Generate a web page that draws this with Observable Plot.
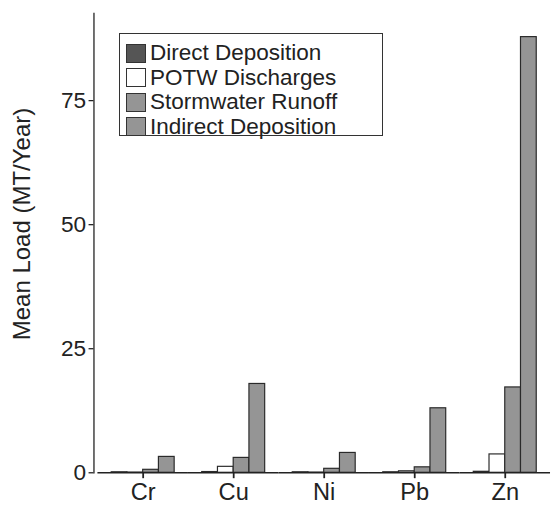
<!DOCTYPE html>
<html>
<head>
<meta charset="utf-8">
<script src="https://cdn.jsdelivr.net/npm/d3@7"></script>
<script src="https://cdn.jsdelivr.net/npm/@observablehq/plot@0.6"></script>
<style>
  html, body { margin: 0; padding: 0; background: #fff; overflow: hidden; }
  #wrap { position: relative; width: 551px; height: 514px; overflow: hidden; font-family: "Liberation Sans", Arial, sans-serif; color: #222; }
  #chart { position: absolute; left: 0; top: 0; }
  #ylabel { position: absolute; left: 22px; top: 224px; transform: translate(-50%, -50%) rotate(-90deg); white-space: nowrap; font-size: 24px; }
  #legend { position: absolute; left: 119px; top: 33px; width: 262px; height: 101px; border: 1px solid #333; box-sizing: content-box; background: #fff; }
  .row { position: absolute; left: 6px; height: 24px; display: flex; align-items: center; font-size: 22.5px; white-space: nowrap; }
  .sw { width: 20px; height: 19px; border: 1px solid #333; margin-right: 4px; box-sizing: border-box; }
</style>
</head>
<body>
<div id="wrap">
  <div id="chart"></div>
  <div id="ylabel"></div>
  <div id="legend"></div>
</div>
<script>
const metals = ["Cr", "Cu", "Ni", "Pb", "Zn"];
const sources = ["Direct Deposition", "POTW Discharges", "Stormwater Runoff", "Indirect Deposition"];
const sourceColors = ["#555555", "#ffffff", "#959595", "#959595"];
const directDeposition = [0.1, 0.15, 0.1, 0.1, 0.2];
const potwDischarges = [0.05, 1.2, 0.05, 0.3, 3.7];
const stormwaterRunoff = [0.6, 3.0, 0.8, 1.1, 17.2];
const indirectDeposition = [3.2, 17.9, 4.0, 13.0, 87.8];
const yTicks = [0, 25, 50, 75];
const yLabel = "Mean Load (MT/Year)";

const series = [directDeposition, potwDischarges, stormwaterRunoff, indirectDeposition];
const table = [];
metals.forEach((m, i) => sources.forEach((s, j) => table.push({metal: m, source: s, value: series[j][i]})));

const chart = Plot.plot({
  width: 560,
  height: 514,
  marginLeft: 97,
  marginRight: 0,
  marginTop: 13,
  marginBottom: 34,
  style: {fontFamily: "'Liberation Sans', Arial, sans-serif", color: "#222", background: "#fff"},
  fx: {domain: metals, padding: 0, label: null, axis: null},
  x: {domain: sources, paddingInner: 0, paddingOuter: 0.76, axis: null},
  y: {domain: [0, 92.6], axis: null},
  color: {domain: sources, range: sourceColors},
  marks: [
    Plot.barY(table, {fx: "metal", x: "source", y: "value", fill: "source", stroke: "#2a2a2a", strokeWidth: 1.2}),
    Plot.ruleY([0], {stroke: "#222", strokeWidth: 1.5}),
    Plot.axisFx({anchor: "bottom", tickSize: 6, tickPadding: 5, fontSize: 24, strokeWidth: 1.8, label: null}),
    Plot.axisY({ticks: yTicks, tickSize: 5, tickPadding: 3, dx: -4, fontSize: 23, label: null, strokeWidth: 1.3}),
    Plot.frame({anchor: "left", dx: -4, facetAnchor: "left", stroke: "#222", strokeWidth: 1.3})
  ]
});
document.getElementById("chart").appendChild(chart);
document.getElementById("ylabel").textContent = yLabel;

const legend = document.getElementById("legend");
sources.forEach((s, j) => {
  const row = document.createElement("div");
  row.className = "row";
  row.style.top = (7 + j * 24.5) + "px";
  const sw = document.createElement("div");
  sw.className = "sw";
  sw.style.background = sourceColors[j];
  const t = document.createElement("span");
  t.textContent = s;
  row.appendChild(sw);
  row.appendChild(t);
  legend.appendChild(row);
});
</script>
</body>
</html>
